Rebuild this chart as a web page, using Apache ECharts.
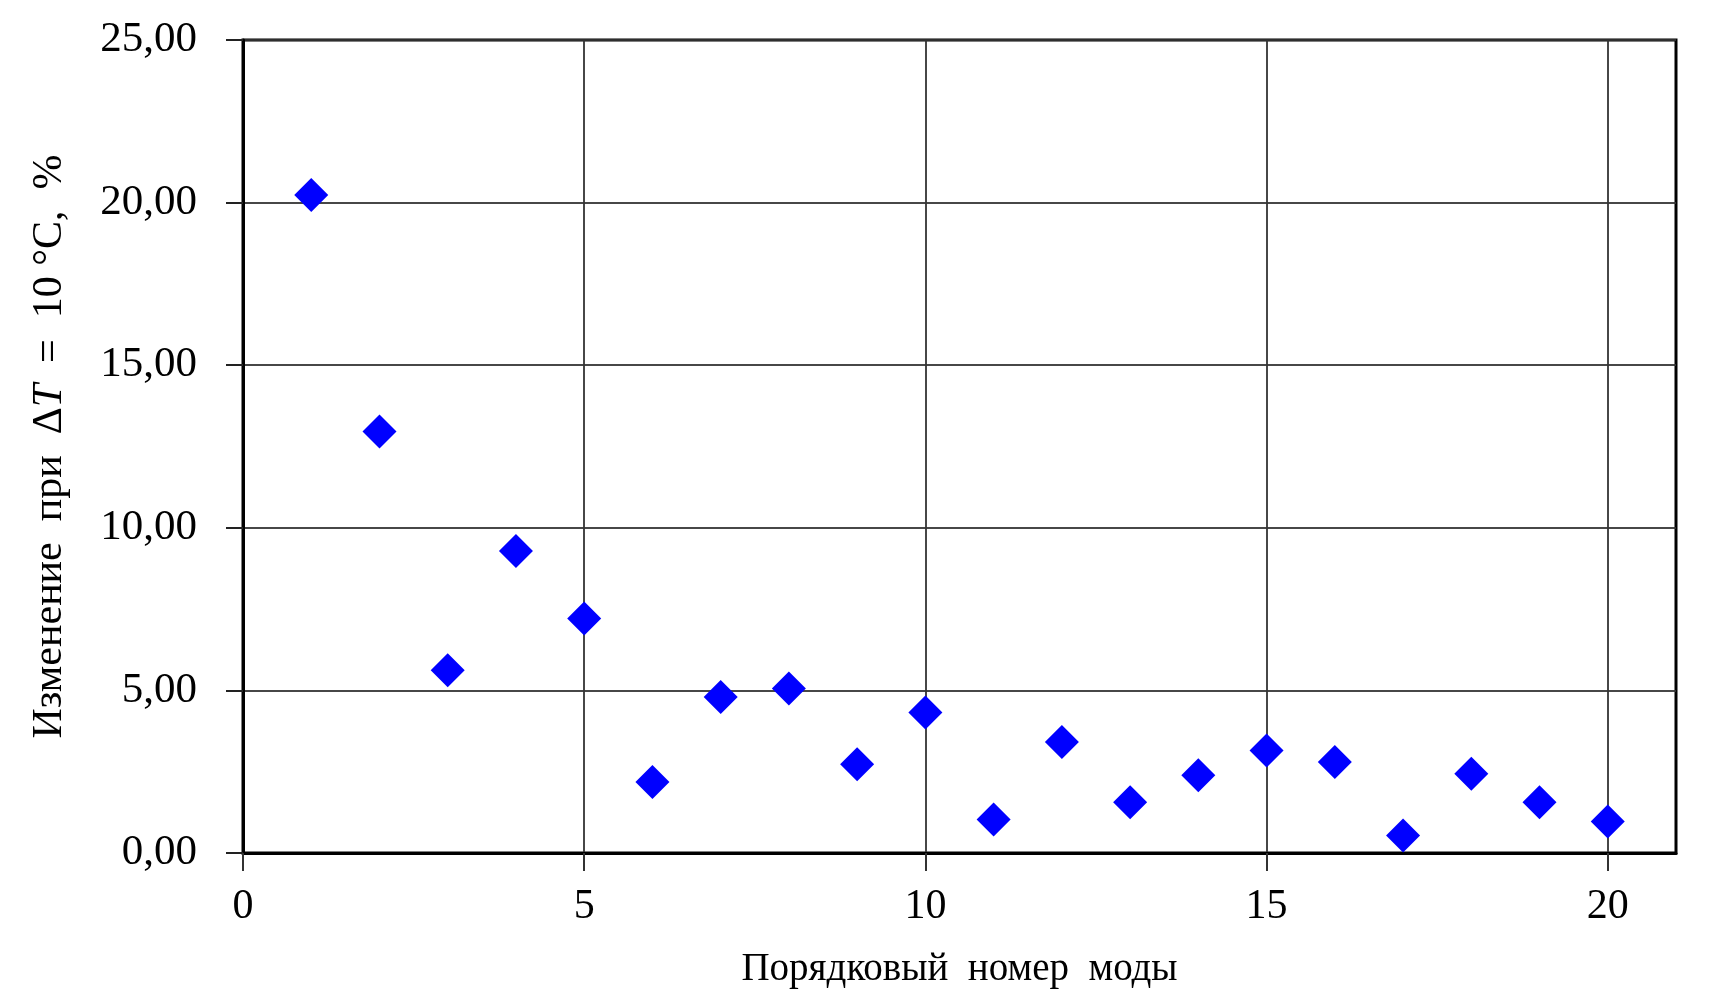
<!DOCTYPE html>
<html>
<head>
<meta charset="utf-8">
<style>
  html, body { margin: 0; padding: 0; background: #fff; }
  #chart { width: 1713px; height: 1002px; }
</style>
<script src="https://cdn.jsdelivr.net/npm/echarts@6/dist/echarts.min.js"></script>
</head>
<body>
<div id="chart"></div>
<script>
const modes = [1, 2, 3, 4, 5, 6, 7, 8, 9, 10, 11, 12, 13, 14, 15, 16, 17, 18, 19, 20];
const changePct = [20.23, 12.96, 5.62, 9.29, 7.21, 2.18, 4.80, 5.06, 2.73, 4.32,
                   1.03, 3.41, 1.56, 2.39, 3.15, 2.80, 0.54, 2.44, 1.56, 0.97];
const xTicks = [0, 5, 10, 15, 20];
const yTicks = [0, 5, 10, 15, 20, 25];
const xName = 'Порядковый  номер  моды';

const FONT = '"Liberation Serif", "DejaVu Serif", serif';
const chart = echarts.init(document.getElementById('chart'));
chart.setOption({
  animation: false,
  backgroundColor: '#ffffff',
  grid: {
    left: 243, right: 37, top: 40, bottom: 149,
    show: true, borderColor: '#000', borderWidth: 3, backgroundColor: 'transparent'
  },
  xAxis: {
    type: 'value', min: 0, max: 21, interval: 5,
    name: xName, nameLocation: 'middle', nameGap: 97,
    nameTextStyle: { fontFamily: FONT, fontSize: 39, color: '#000' },
    axisLine: { show: true, lineStyle: { color: '#000', width: 3 } },
    axisTick: { show: true, inside: false, length: 18, customValues: xTicks,
      lineStyle: { color: '#333', width: 2 } },
    axisLabel: { show: true, margin: 33, customValues: xTicks,
      fontFamily: FONT, fontSize: 42, color: '#000' },
    splitLine: { show: true, lineStyle: { color: '#333', width: 2, opacity: 0.9 } }
  },
  yAxis: {
    type: 'value', min: 0, max: 25, interval: 5,
    name: '{a|Изменение  при  Δ}{i|T}{a|  =  10 °C,  %}',
    nameLocation: 'middle', nameGap: 172, nameRotate: 90,
    nameTextStyle: {
      fontFamily: FONT, fontSize: 42, color: '#000',
      rich: {
        a: { fontFamily: FONT, fontSize: 42, color: '#000' },
        i: { fontFamily: FONT, fontSize: 42, color: '#000', fontStyle: 'italic' }
      }
    },
    axisLine: { show: true, lineStyle: { color: '#000', width: 3 } },
    axisTick: { show: true, inside: false, length: 17, customValues: yTicks,
      lineStyle: { color: '#222', width: 2 } },
    axisLabel: { show: true, margin: 46, customValues: yTicks,
      fontFamily: FONT, fontSize: 43, color: '#000',
      formatter: v => v.toFixed(2).replace('.', ',') },
    splitLine: { show: true, lineStyle: { color: '#333', width: 2, opacity: 0.9 } }
  },
  series: [{
    type: 'scatter',
    data: modes.map((m, i) => [m, changePct[i]]),
    symbol: 'diamond',
    symbolSize: 34,
    itemStyle: { color: '#0000ff', opacity: 1 },
    z: 5
  }]
});
</script>
</body>
</html>
